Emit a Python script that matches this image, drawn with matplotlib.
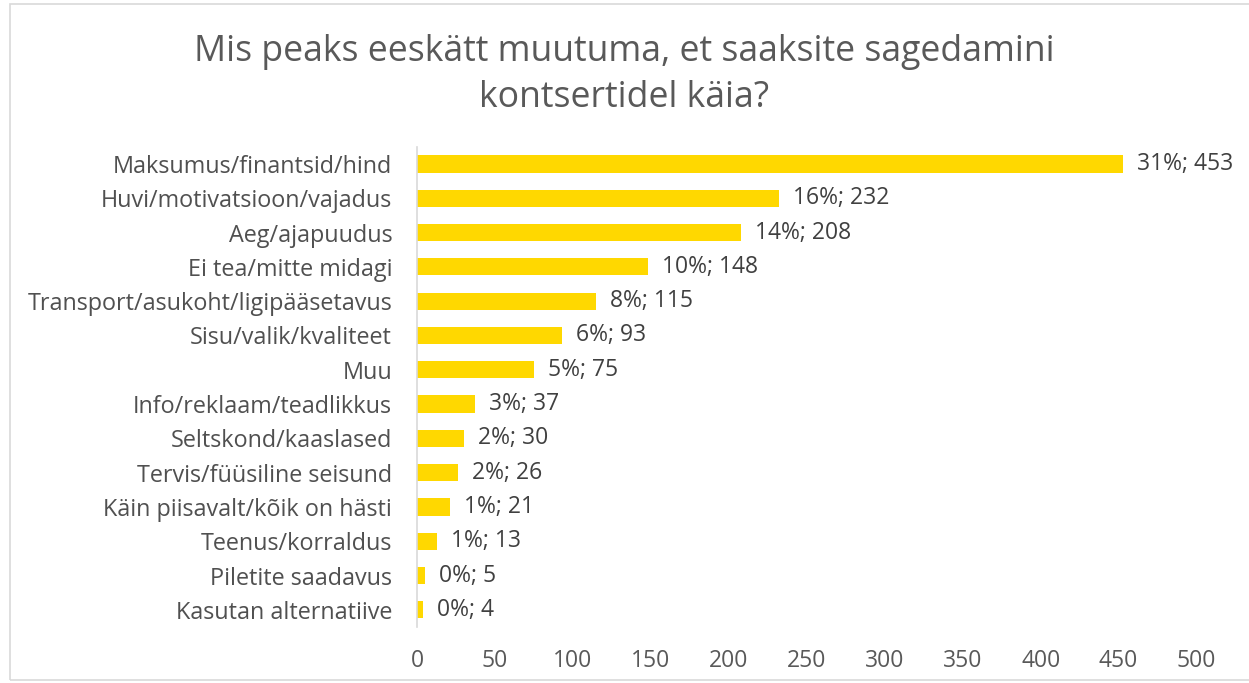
import matplotlib.pyplot as plt
from matplotlib.patches import Rectangle

plt.rcParams['font.family'] = ['Open Sans', 'DejaVu Sans']

categories = ['Maksumus/finantsid/hind', 'Huvi/motivatsioon/vajadus', 'Aeg/ajapuudus',
              'Ei tea/mitte midagi', 'Transport/asukoht/ligipääsetavus', 'Sisu/valik/kvaliteet',
              'Muu', 'Info/reklaam/teadlikkus', 'Seltskond/kaaslased', 'Tervis/füüsiline seisund',
              'Käin piisavalt/kõik on hästi', 'Teenus/korraldus', 'Piletite saadavus',
              'Kasutan alternatiive']
counts = [453, 232, 208, 148, 115, 93, 75, 37, 30, 26, 21, 13, 5, 4]
percents = [31, 16, 14, 10, 8, 6, 5, 3, 2, 2, 1, 1, 0, 0]
xticks = [0, 50, 100, 150, 200, 250, 300, 350, 400, 450, 500]

fig = plt.figure(figsize=(12.49, 6.83), dpi=100)
ax = fig.add_axes([0.334, 0.082, 0.624, 0.703])

ypos = list(range(len(categories)))[::-1]
ax.barh(ypos, counts, height=0.5, color='#FFD800')
for y, c, p in zip(ypos, counts, percents):
    ax.text(c + 9, y, f'{p}%; {c}', va='center', ha='left', fontsize=16.5, color='#404040')

ax.set_xlim(0, 500)
ax.set_ylim(-0.5, len(categories) - 0.5)
ax.set_yticks(ypos)
ax.set_yticklabels(categories, fontsize=16.8, color='#505050')
ax.set_xticks(xticks)
ax.set_xticklabels([str(t) for t in xticks], fontsize=16.5, color='#595959')
ax.tick_params(axis='both', length=0)
ax.tick_params(axis='x', pad=16)
ax.tick_params(axis='y', pad=18)
for s in ['top', 'right', 'bottom']:
    ax.spines[s].set_visible(False)
ax.spines['left'].set_color('#D9D9D9')
ax.spines['left'].set_linewidth(1.2)

fig.text(0.5, 0.95, 'Mis peaks eeskätt muutuma, et saaksite sagedamini\nkontsertidel käia?',
         ha='center', va='top', fontsize=25.7, color='#595959', linespacing=1.38)

fig.patches.append(Rectangle((0.008, 0.004), 1.1, 0.99, transform=fig.transFigure,
                             fill=False, edgecolor='#D9D9D9', linewidth=1.2))

fig.savefig('out.png', dpi=100)
